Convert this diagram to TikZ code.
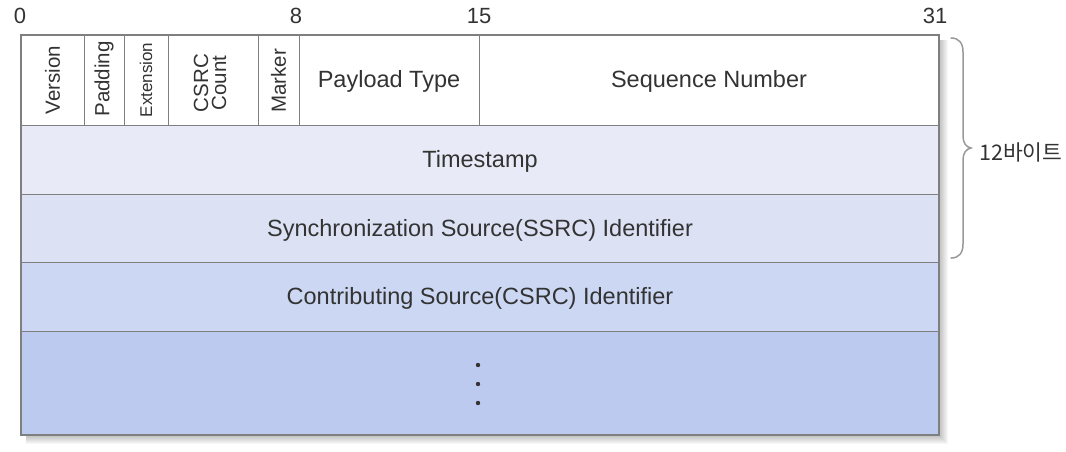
\documentclass[tikz,border=0pt]{standalone}
\usepackage{fontspec}
\setmainfont{Liberation Sans}
\newfontfamily\krfont{Noto Sans CJK KR}
\definecolor{txt}{HTML}{333333}
\definecolor{bord}{HTML}{7F7F7F}
\definecolor{brc}{HTML}{999999}
\definecolor{rowa}{HTML}{E8EBF7}
\definecolor{rowb}{HTML}{DCE2F4}
\definecolor{rowc}{HTML}{CCD7F3}
\definecolor{rowd}{HTML}{BDCAEF}
\tikzset{
  lbl/.style={text=txt, inner sep=0pt, font=\fontsize{23.5}{26}\selectfont},
  rlbl/.style={text=txt, inner sep=0pt, font=\fontsize{20.5}{21}\selectfont},
  num/.style={text=txt, inner sep=0pt, font=\fontsize{22}{24}\selectfont},
  cell/.style={draw=bord, line width=1pt},
}
\begin{document}
\begin{tikzpicture}[x=1pt,y=-1pt]
\useasboundingbox (0,0) rectangle (1066,451);
% shadow
\foreach \i in {1,...,9}
  \fill[black, opacity=0.03] (26,40) rectangle (939+\i,435+\i);
% rows
\fill[white] (21,35) rectangle (939,125);
\fill[rowa] (21,125) rectangle (939,194);
\fill[rowb] (21,194) rectangle (939,262);
\fill[rowc] (21,262) rectangle (939,331);
\fill[rowd] (21,331) rectangle (939,435);
% inner lines
\draw[cell] (21,125) -- (939,125);
\draw[cell] (21,194) -- (939,194);
\draw[cell] (21,262) -- (939,262);
\draw[cell] (21,331) -- (939,331);
\foreach \x in {84,124,168,258,299,479}
  \draw[cell] (\x,35) -- (\x,125);
\draw[draw=bord, line width=1.6pt] (21,35) rectangle (939,435);
% bit numbers
\node[num] (n0) at (20,16) {0};
\node[num] (n8) at (296,16) {8};
\node[num] (n15) at (479,16) {15};
\node[num] (n31) at (935,16) {31};
% header labels
\node[rlbl] (ver) at (52.5,80) {\rotatebox{90}{Version}};
\node[rlbl] (pad) at (104,79) {\rotatebox{90}{Padding}};
\node[rlbl, font=\fontsize{17}{18}\selectfont] (ext) at (146,80) {\rotatebox{90}{Extension}};
\node[rlbl] (cc) at (213,83) {\rotatebox{90}{\begin{tabular}{@{}c@{}}CSRC\\[-3pt]Count\end{tabular}}};
\node[rlbl] (mk) at (278.5,81) {\rotatebox{90}{Marker}};
\node[lbl] (pt) at (389,81.5) {Payload Type};
\node[lbl] (sn) at (709,81.5) {Sequence Number};
\node[lbl] (ts) at (480,161) {Timestamp};
\node[lbl] (ssrc) at (480,230) {Synchronization Source(SSRC) Identifier};
\node[lbl] (csrc) at (480,298.5) {Contributing Source(CSRC) Identifier};
% dots
\foreach \y/\n in {365/d1,384/d2,403/d3}
  \fill[txt] (478,\y) circle (2.2pt);
% brace
\draw[draw=brc, line width=1.5pt, line cap=round]
  (951,38) .. controls (959,38) and (963,43) .. (963,52)
  -- (963,136) .. controls (963,143) and (966,147) .. (971,148)
  .. controls (966,149) and (963,153) .. (963,160)
  -- (963,244) .. controls (963,253) and (959,258) .. (951,258);
\node[text=txt, inner sep=0pt, anchor=west, font=\krfont\fontsize{21.5}{24}\selectfont] (kb) at (979,152) {12바이트};
\end{tikzpicture}
\end{document}
